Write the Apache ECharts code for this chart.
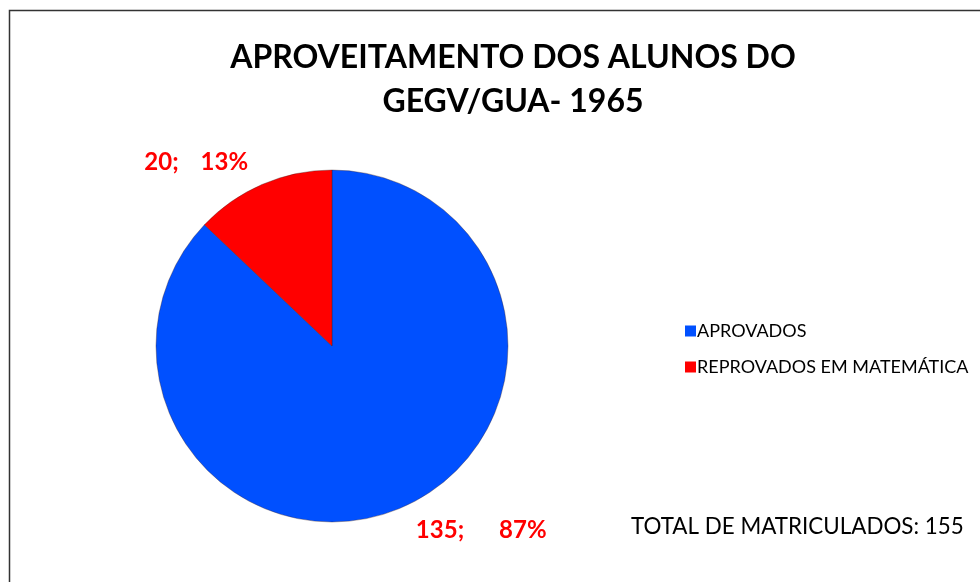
<!DOCTYPE html>
<html><head><meta charset="utf-8">
<script src="https://cdn.jsdelivr.net/npm/echarts@6/dist/echarts.min.js"></script>
<style>html,body{margin:0;padding:0;background:#fff}#c{width:980px;height:582px}</style>
</head><body><div id="c"></div>
<script>
var titleLines = ['APROVEITAMENTO DOS ALUNOS DO', 'GEGV/GUA- 1965'];
var categories = ['APROVADOS', 'REPROVADOS EM MATEMÁTICA'];
var values = [135, 20];
var colors = ['#0050FF', '#FF0000'];
var totalLabel = 'TOTAL DE MATRICULADOS: ';
var total = values.reduce(function(a,b){return a+b;},0);
var font = 'Lato';
var chart = echarts.init(document.getElementById('c'));
chart.setOption({
  animation: false,
  backgroundColor: '#fff',
  title: [{
    text: titleLines.join('\n'),
    top: 36, padding: 0, itemGap: 0,
    textAlign: 'center', left: 513,
    textStyle: {fontFamily: font, fontWeight: 'bold', fontSize: 32, color: '#000', lineHeight: 44}
  }, {
    text: totalLabel + total,
    left: 631, top: 516, padding: 0,
    textStyle: {fontFamily: font, fontWeight: 'normal', fontSize: 22.4, color: '#000'}
  }],
  legend: {
    orient: 'vertical', left: 680, top: 317,
    itemWidth: 11, itemHeight: 11, itemGap: 18, icon: 'rect',
    itemStyle: {borderWidth: 0},
    data: categories,
    textStyle: {fontFamily: font, fontSize: 18, color: '#000', padding: [0,0,0,-4]}
  },
  graphic: [{
    type: 'rect', shape: {x: 9.5, y: 10.5, width: 1000, height: 600},
    style: {fill: 'none', stroke: '#333', lineWidth: 1.5}, silent: true
  }],
  series: [{
    type: 'pie',
    center: [332, 346], radius: 176,
    startAngle: 90, clockwise: true,
    data: categories.map(function(n,i){return {name: n, value: values[i], itemStyle: {color: colors[i]}};}),
    itemStyle: {borderColor: 'rgba(60,30,30,0.6)', borderWidth: 0.6},
    label: {
      show: true, position: 'outside',
      formatter: function(p){
        return '{a|' + p.value + ';}{' + (p.dataIndex === 0 ? 'w' : 'n') + '|' + Math.round(p.percent) + '%}';
      },
      fontFamily: font, fontWeight: 'bold', fontSize: 24, color: '#FF0000',
      rich: {
        a: {fontFamily: font, fontWeight: 'bold', fontSize: 24, color: '#FF0000'},
        n: {fontFamily: font, fontWeight: 'bold', fontSize: 24, color: '#FF0000', padding: [0,0,0,22]},
        w: {fontFamily: font, fontWeight: 'bold', fontSize: 24, color: '#FF0000', padding: [0,0,0,35]}
      }
    },
    labelLine: {show: false, length: 24, length2: 0}
  }]
});
</script></body></html>
